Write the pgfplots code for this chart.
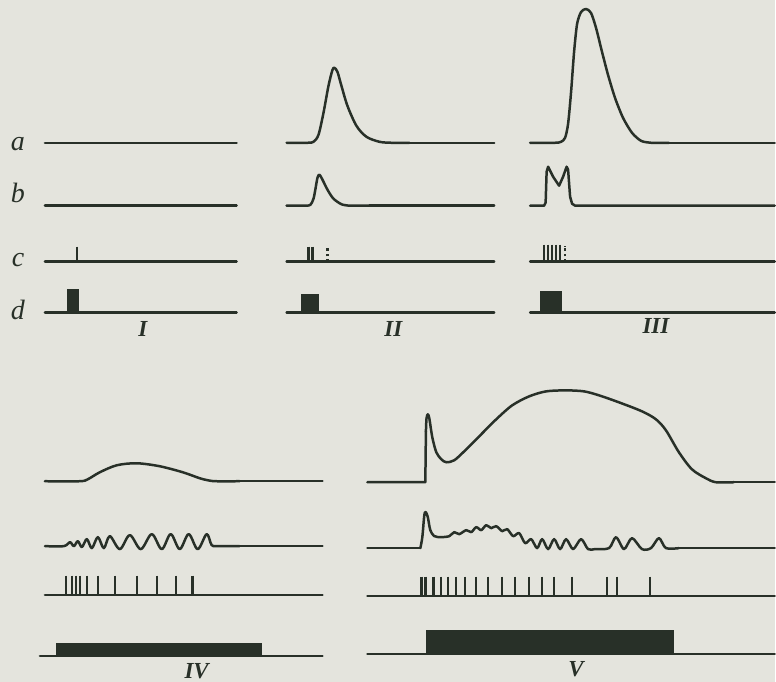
\documentclass[border=0pt]{standalone}
\usepackage{pgfplots}
\pgfplotsset{compat=1.18}
\usepackage{fontspec}
\newfontfamily\labfont{Liberation Serif}
\definecolor{bgc}{RGB}{228,228,221}
\definecolor{ink}{RGB}{40,48,40}
\begin{document}
\begin{tikzpicture}
\begin{axis}[scale only axis, width=388pt, height=341.5pt,
  xmin=0, xmax=776, ymin=0, ymax=683, y dir=reverse,
  axis lines=none, axis background/.style={fill=bgc}, clip=false,
  trace/.style={ink, line width=1.25pt, line join=round, line cap=round, mark=none},
  stim/.style={ink, only marks, mark=|, mark size=5pt, mark options={line width=1.2pt, ink}},
  blk/.style={fill=ink, draw=ink, line width=0.5pt, mark=none}]

% ---------- upper part: rows a, b, c, d ----------
% row a
\addplot[trace] coordinates {(45,143)(237,143)};
\addplot[trace, smooth, tension=0.5] coordinates {(287,143)(308,143)(314,142)(319,135)(324,113)(329,86)(333,70)(335,68)(338,72)(342,86)(348,106)(357,126)(367,137)(380,142)(392,143)(410,143)};
\addplot[trace] coordinates {(410,143)(495,143)};
\addplot[trace, smooth, tension=0.45] coordinates {(531,143)(556,143)(562,142)(566,138)(569,124)(572,92)(575,52)(578,24)(582,12)(587,9)(592,13)(597,28)(603,52)(609,75)(616,98)(624,118)(633,133)(642,141)(652,143)(670,143)};
\addplot[trace] coordinates {(670,143)(776,143)};

% row b
\addplot[trace] coordinates {(45,206)(237,206)};
\addplot[trace, smooth, tension=0.5] coordinates {(287,206)(306,206)(311,205)(314,199)(316,189)(318,178)(320,175)(323,180)(328,190)(334,199)(343,205)(353,206)(370,206)};
\addplot[trace] coordinates {(370,206)(495,206)};
\addplot[trace] coordinates {(531,206)(545,206)(546.5,203)(547.5,172)(549,167)(554,177)(560,186)(564,177)(567.5,167)(569,170)(571,197)(573,204)(576,206)(776,206)};

% row c
\addplot[trace] coordinates {(45,262)(237,262)};
\addplot[trace] coordinates {(287,262)(495,262)};
\addplot[trace] coordinates {(531,262)(776,262)};
\addplot[stim, mark size=3.8pt] coordinates {(77,254.5)(309,254.5)(313,254.5)};
\addplot[stim, mark size=4.2pt, mark options={line width=0.95pt, ink}] coordinates {(545,253.5)(549,253.5)(553,253.5)(557,253.5)(561,253.5)};
\addplot[ink, line width=1.1pt, dash pattern=on 1.4pt off 1.2pt] coordinates {(328,262)(328,247)};
\addplot[ink, line width=1.1pt, dash pattern=on 1.4pt off 1.2pt] coordinates {(566,262)(566,246)};

% row d
\addplot[trace] coordinates {(45,313)(237,313)};
\addplot[trace] coordinates {(287,313)(495,313)};
\addplot[trace] coordinates {(531,313)(776,313)};
\addplot[blk] coordinates {(68,313)(68,290)(79,290)(79,313)} -- cycle;
\addplot[blk] coordinates {(302,313)(302,295)(319,295)(319,313)} -- cycle;
\addplot[blk] coordinates {(541,313)(541,292)(562,292)(562,313)} -- cycle;

% ---------- lower part ----------
% tension
\addplot[trace, smooth, tension=0.5] coordinates {(45,482)(80,482)(88,480)(100,473)(117,466)(137,464)(160,467)(183,473)(200,479)(208,481)(216,482)(240,482)};
\addplot[trace] coordinates {(240,482)(323,482)};
\addplot[trace] coordinates {(368,483)(426,483)(426.6,432)};
\addplot[trace, smooth, tension=0.5] coordinates {(426.6,432)(427.2,419)(428.5,415)(430,419)(433,438)(437,453)(442,460)(447,463)(455,461)(465,452)(480,437)(497,420)(513,406)(530,397)(547,392)(567,391)(585,392)(600,396)(620,403)(643,412)(657,420)(667,431)(680,453)(693,470)(707,479)(717,483)(735,483)};
\addplot[trace] coordinates {(735,483)(776,483)};

% actions
\addplot[trace, smooth, tension=0.55] coordinates {(45,547)(64,547)(70,543)(74,547)(78,542)(82,548)(87,540)(92,549)(98,538)(104,549)(110,537)(120,550)(130,536)(141,550)(152,535)(162,550)(171,535)(180,550)(189,535)(198,550)(207,535)(212,546)(218,547)(240,547)};
\addplot[trace] coordinates {(240,547)(323,547)};
\addplot[trace] coordinates {(368,549)(421,549)};
\addplot[trace, smooth, tension=0.5] coordinates {(421,549)(423,538)(425,516)(426.5,513)(428.5,518)(431,531)(435,537)(442,538)(450,537)(455,533)(460,535)(467,531)(472,533)(477,528)(482,531)(487,526)(492,529)(497,527)(503,532)(508,530)(514,537)(520,534)(526,544)(532,540)(538,549)(543,540)(549,550)(555,540)(561,550)(567,540)(574,550)(582,540)(589,550)(596,550)(610,549)(617,538)(625,550)(633,539)(643,550)(652,549)(660,539)(667,549)(680,549)};
\addplot[trace] coordinates {(680,549)(776,549)};

% stimuli
\addplot[trace] coordinates {(45,596)(323,596)};
\addplot[stim] coordinates {(66,586.5)(72,586.5)(76,586.5)(80,586.5)(87,586.5)(98,586.5)(115,586.5)(137,586.5)(157,586.5)(176,586.5)(193,586.5)};
\addplot[trace] coordinates {(368,597)(776,597)};
\addplot[stim] coordinates {(422,587.5)(426,587.5)(434,587.5)(442,587.5)(449,587.5)(457,587.5)(466,587.5)(477,587.5)(489,587.5)(503,587.5)(516,587.5)(530,587.5)(543,587.5)(555,587.5)(573,587.5)(608,587.5)(618,587.5)(651,587.5)};

% stimulation periods
\addplot[trace] coordinates {(40,657)(323,657)};
\addplot[blk] coordinates {(57,657)(57,645)(262,645)(262,657)} -- cycle;
\addplot[trace] coordinates {(368,655)(776,655)};
\addplot[blk] coordinates {(427,655)(427,632)(675,632)(675,655)} -- cycle;

% labels
\begin{scope}[every node/.style={anchor=base, text=ink, inner sep=0pt, font=\labfont\fontsize{14}{16}\selectfont\itshape}]
\node at (axis cs:18,151) {a};
\node at (axis cs:18,203) {b};
\node at (axis cs:18,267) {c};
\node at (axis cs:18,320) {d};
\end{scope}
\begin{scope}[every node/.style={anchor=base, text=ink, inner sep=0pt, font=\labfont\fontsize{11.5}{13}\selectfont\bfseries\itshape}]
\node at (axis cs:143,337) {I};
\node at (axis cs:394,337) {II};
\node at (axis cs:657,334) {III};
\node at (axis cs:197,680) {IV};
\node at (axis cs:577,678) {V};
\end{scope}
\end{axis}
\end{tikzpicture}
\end{document}
